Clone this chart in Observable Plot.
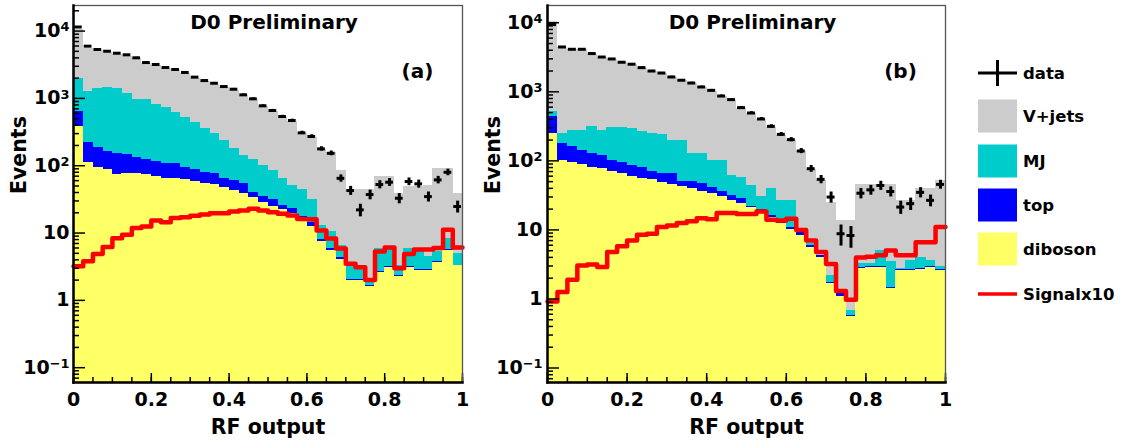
<!DOCTYPE html>
<html><head><meta charset="utf-8">
<script src="https://cdn.jsdelivr.net/npm/d3@7"></script>
<script src="https://cdn.jsdelivr.net/npm/@observablehq/plot@0.6"></script>
<style>
html,body{margin:0;padding:0;background:#fff;}
#wrap{position:relative;width:1123px;height:443px;overflow:hidden;font-family:"DejaVu Sans",sans-serif;font-weight:bold;}
#wrap > svg{position:absolute;top:0;}
</style></head><body><div id="wrap"></div>
<script>
// ---- 40 bins of RF output, lower edges ----
const binLo = d3.range(40).map(i => i / 40);
const binW = 0.025;

// ---- panel (a): stack levels (cumulative top edge of each colour) ----
const dataA = [11500,5970,5330,5020,4690,4440,4010,3410,3190,2880,2690,2430,2070,1840,1680,1500,1370,1130,986,776,661,538,470,308,272,178,153,65,42.8,22.1,37.3,52.6,56.9,32.9,58.2,53.8,34.8,61.6,80,24.8];
const vjetsLevelA = [10500,5600,5100,4800,4500,4250,3850,3300,3050,2750,2580,2330,2000,1770,1610,1440,1310,1090,950,750,640,520,455,298,264,172,158,85,44,44,44,69,69,39,49.5,49.5,50,90,90,39];
const mjLevelA = [1995,1280,1390,1440,1390,1170,953,953,811,724,624,525,442,352,297,236,178,142,125,101,85,64,51,44,31,13,10.5,6.5,3.6,3.3,1.9,5.8,6.0,3.3,5.8,5.8,4.5,5.3,8.3,5.0];
const topLevelA = [638,223,188,163,150,147,134,124,117,107,107,95,87,80,76,64,60,54,40,35,31,26,23,17.5,14.5,7.9,5.8,4.3,2.05,2.05,1.68,2.65,3.15,2.35,3.15,2.85,2.9,3.75,5.6,3.35];
const dibosonA = [382,113,95,88,75,77,76,74,70,65,64,62,58,54,52,48,43,39,34,28,25,22,19.5,15,12.5,7.5,5.5,4.1,2.0,2.0,1.6,2.6,3.1,2.3,3.1,2.8,2.8,3.7,5.5,3.3];
const signalA = [3.2,3.8,4.9,6.2,8.4,9.4,11.9,12.5,15.3,14.5,16.8,17.2,18,18.8,19.7,19.7,20.9,21.6,22.9,21.6,20.4,19.3,18.3,16.2,16,10.9,8.3,5.9,3.5,3.1,2.0,5.3,6.1,3.0,4.9,5.7,5.7,6.0,11.2,6.1];

// ---- panel (b) ----
const dataB = [9420,4460,4130,4130,3580,3190,2990,2680,2510,2240,2000,1870,1640,1470,1340,1175,1050,869,771,590,493,404,316,242,203,139,77,54,29.9,8.8,8.3,34,38,44,36,21.4,24,35,26.8,45.6];
const vjetsLevelB = [10300,4350,4050,4050,3500,3120,2920,2620,2450,2190,1950,1820,1600,1440,1310,1150,1025,850,755,578,482,395,308,236,198,136,75,52,25,13.7,13.7,45,45,45,45,26.8,26.8,39.5,39.5,52];
const mjLevelB = [521,253,277,277,316,277,309,309,293,270,248,242,198,198,127,127,102,102,62,58,44,30,40,27,27,10,6.3,4.3,2.2,1.2,0.68,3.3,3.3,5.0,3.5,2.8,3.6,4.0,3.6,3.0];
const topLevelB = [441,181,159,142,127,120,102,96,86,80,69,66,65,51,51,47,41,36.5,31.6,28.3,22,19.5,16,13.5,11,9.3,6.0,4.3,1.75,1.2,0.58,2.9,2.95,3.0,1.45,2.7,2.7,2.8,2.95,2.7];
const dibosonB = [253,102,94,89,80,77,69,65,60,56,53,49,46,42,39.5,36.5,33.5,30.6,26.8,24,21.4,18.5,15,12.5,10,8.3,5.5,4.0,1.65,1.1,0.55,2.8,2.85,2.9,1.4,2.6,2.6,2.7,2.85,2.6];
const signalB = [0.92,1.26,1.9,3.06,3.16,2.9,4.77,5.8,7.0,8.5,8.8,11,11.6,12.6,13.4,14.8,14.3,17.5,17.5,17,17,18.5,14,13.7,14.5,10,7.0,4.8,3.2,1.3,0.97,4.0,4.1,4.3,5.05,4.3,4.3,6.6,6.6,11];

// ---- ticks & labels ----
const xTickVals = [0, 0.2, 0.4, 0.6, 0.8, 1];
const xTickLabels = ["0", "0.2", "0.4", "0.6", "0.8", "1"];
const xMinorVals = d3.range(0, 1.0001, 0.05);
const yTickVals = [0.1, 1, 10, 100, 1000, 10000];
const yTickLabels = ["10^-1", "1", "10", "10^2", "10^3", "10^4"];
const titleText = ["D0 Preliminary"];
const xTitle = ["RF output"];
const yTitle = ["Events"];
const legendLabels = ["data", "V+jets", "MJ", "top", "diboson", "Signalx10"];
const colors = {vjets: "#cccccc", mj: "#00cccc", top: "#0000ff", diboson: "#ffff66", signal: "#ff0000"};

const H = 443, mT = 5, mB = 61;

function panel(o) {
  const lo = o.yDomain[0], hi = o.yDomain[1];
  const bins = binLo.map((x0, i) => ({
    x0, x1: x0 + binW, xc: x0 + binW / 2,
    data: o.data[i], vjets: o.vjets[i], mj: o.mj[i], top: o.top[i], dib: o.dib[i]
  }));
  const sig = binLo.map((x, i) => ({x, y: o.signal[i]})).concat([{x: 1, y: o.signal[o.signal.length - 1]}]);
  const yMinor = [];
  for (let e = -2; e <= 4; e++) for (let m = 2; m <= 9; m++) { const v = m * Math.pow(10, e); if (v > lo && v < hi) yMinor.push(v); }
  const fw = o.width - o.marginLeft - o.marginRight, fh = H - mT - mB;
  const rectOpts = {x1: "x0", x2: "x1", y1: lo, insetLeft: -0.4, insetRight: -0.4, shapeRendering: "crispEdges"};
  const svg = Plot.plot({
    width: o.width, height: H, marginLeft: o.marginLeft, marginRight: o.marginRight, marginTop: mT, marginBottom: mB,
    x: {domain: [0, 1]},
    y: {type: "log", domain: o.yDomain},
    style: {fontFamily: "'DejaVu Sans', sans-serif", fontWeight: "bold", fontSize: "19px", background: "transparent", overflow: "visible", color: "black"},
    marks: [
      Plot.rectY(bins, {...rectOpts, y2: "vjets", fill: colors.vjets}),
      Plot.rectY(bins, {...rectOpts, y2: "mj", fill: colors.mj}),
      Plot.rectY(bins, {...rectOpts, y2: "top", fill: colors.top}),
      Plot.rectY(bins, {...rectOpts, y2: "dib", fill: colors.diboson}),
      Plot.line(sig, {x: "x", y: "y", curve: "step-after", stroke: colors.signal, strokeWidth: 4.5}),
      Plot.ruleX(bins, {x: "xc", y1: d => Math.max(lo, d.data - Math.sqrt(d.data)), y2: d => d.data + Math.sqrt(d.data), stroke: "black", strokeWidth: 3}),
      Plot.ruleY(bins, {y: "data", x1: "x0", x2: "x1", stroke: "black", strokeWidth: 3, insetLeft: 1, insetRight: 1}),
      Plot.ruleY(yTickVals, {stroke: "black", strokeWidth: 1.5, insetRight: fw - 12}),
      Plot.ruleY(yMinor, {stroke: "black", strokeWidth: 1.5, insetRight: fw - 6}),
      Plot.ruleX(xMinorVals, {stroke: "black", strokeWidth: 1.5, insetTop: fh - 5}),
      Plot.ruleX(xTickVals, {stroke: "black", strokeWidth: 1.5, insetTop: fh - 9}),
      Plot.frame({stroke: "#555", strokeWidth: 1.3}),
      Plot.frame({anchor: "left", stroke: "black", strokeWidth: 2.5}),
      Plot.frame({anchor: "bottom", stroke: "black", strokeWidth: 2.5}),
      Plot.axisX({ticks: xTickVals, tickFormat: d => xTickLabels[xTickVals.indexOf(d)], tickSize: 0, tickPadding: 10, label: null, fontSize: 19, fontWeight: "bold"}),
      Plot.axisY({ticks: yTickVals, tickFormat: d => yTickLabels[yTickVals.indexOf(d)], tickSize: 0, tickPadding: o.yPad, label: null, fontSize: 19, fontWeight: "bold"}),
      Plot.text(yTitle, {text: d => d, frameAnchor: "left", lineAnchor: "middle", dx: -54, rotate: -90, fontSize: 20.5, fontWeight: "bold"}),
      Plot.text(xTitle, {text: d => d, frameAnchor: "bottom", lineAnchor: "middle", dy: 45, fontSize: 20.5, fontWeight: "bold"}),
      Plot.text(titleText, {text: d => d, frameAnchor: "top", lineAnchor: "middle", dx: 6, dy: 17, fontSize: 20, fontWeight: "bold"}),
      Plot.text([o.tag], {text: d => d, frameAnchor: "top-right", textAnchor: "middle", lineAnchor: "middle", dx: -45, dy: 66, fontSize: 20, fontWeight: "bold"})
    ]
  });
  // superscripts for decade labels
  d3.select(svg).selectAll('g[aria-label="y-axis tick label"] text').each(function () {
    const t = this.textContent;
    if (t.includes("^")) {
      const [b, e] = t.split("^");
      const sel = d3.select(this);
      sel.text(null);
      sel.append("tspan").text(b);
      sel.append("tspan").attr("dy", "-0.45em").attr("font-size", "0.68em").text(e.replace("-", "\u2212"));
    }
  });
  svg.style.left = o.left + "px";
  return svg;
}

const wrap = document.getElementById("wrap");
wrap.appendChild(panel({left: 0, width: 470, marginLeft: 73, marginRight: 8, yDomain: [Math.pow(10, -1.22), Math.pow(10, 4.38)], yPad: 4,
  data: dataA, vjets: vjetsLevelA, mj: mjLevelA, top: topLevelA, dib: dibosonA, signal: signalA, tag: "(a)"}));
wrap.appendChild(panel({left: 470, width: 480, marginLeft: 77, marginRight: 5, yDomain: [Math.pow(10, -1.21), Math.pow(10, 4.25)], yPad: 5,
  data: dataB, vjets: vjetsLevelB, mj: mjLevelB, top: topLevelB, dib: dibosonB, signal: signalB, tag: "(b)"}));

// ---- legend ----
const leg = d3.create("svg").attr("width", 163).attr("height", H).style("left", "960px");
const rowY = [73, 116, 161, 205, 249, 294];
const kinds = ["data", "box", "box", "box", "box", "line"];
const fills = [null, colors.vjets, colors.mj, colors.top, colors.diboson, colors.signal];
legendLabels.forEach((lab, i) => {
  const y = rowY[i];
  if (kinds[i] === "data") {
    leg.append("line").attr("x1", 18).attr("x2", 57).attr("y1", y).attr("y2", y).attr("stroke", "black").attr("stroke-width", 3);
    leg.append("line").attr("x1", 37.5).attr("x2", 37.5).attr("y1", y - 13).attr("y2", y + 13).attr("stroke", "black").attr("stroke-width", 3);
  } else if (kinds[i] === "box") {
    leg.append("rect").attr("x", 18).attr("y", y - 16.5).attr("width", 39).attr("height", 33).attr("fill", fills[i]);
  } else {
    leg.append("line").attr("x1", 18).attr("x2", 57).attr("y1", y).attr("y2", y).attr("stroke", fills[i]).attr("stroke-width", 3.5);
  }
  leg.append("text").attr("x", 63).attr("y", y).attr("dy", "0.35em")
    .attr("font-family", "'DejaVu Sans', sans-serif").attr("font-weight", "bold").attr("font-size", 16.5).text(lab);
});
wrap.appendChild(leg.node());
</script></body></html>
